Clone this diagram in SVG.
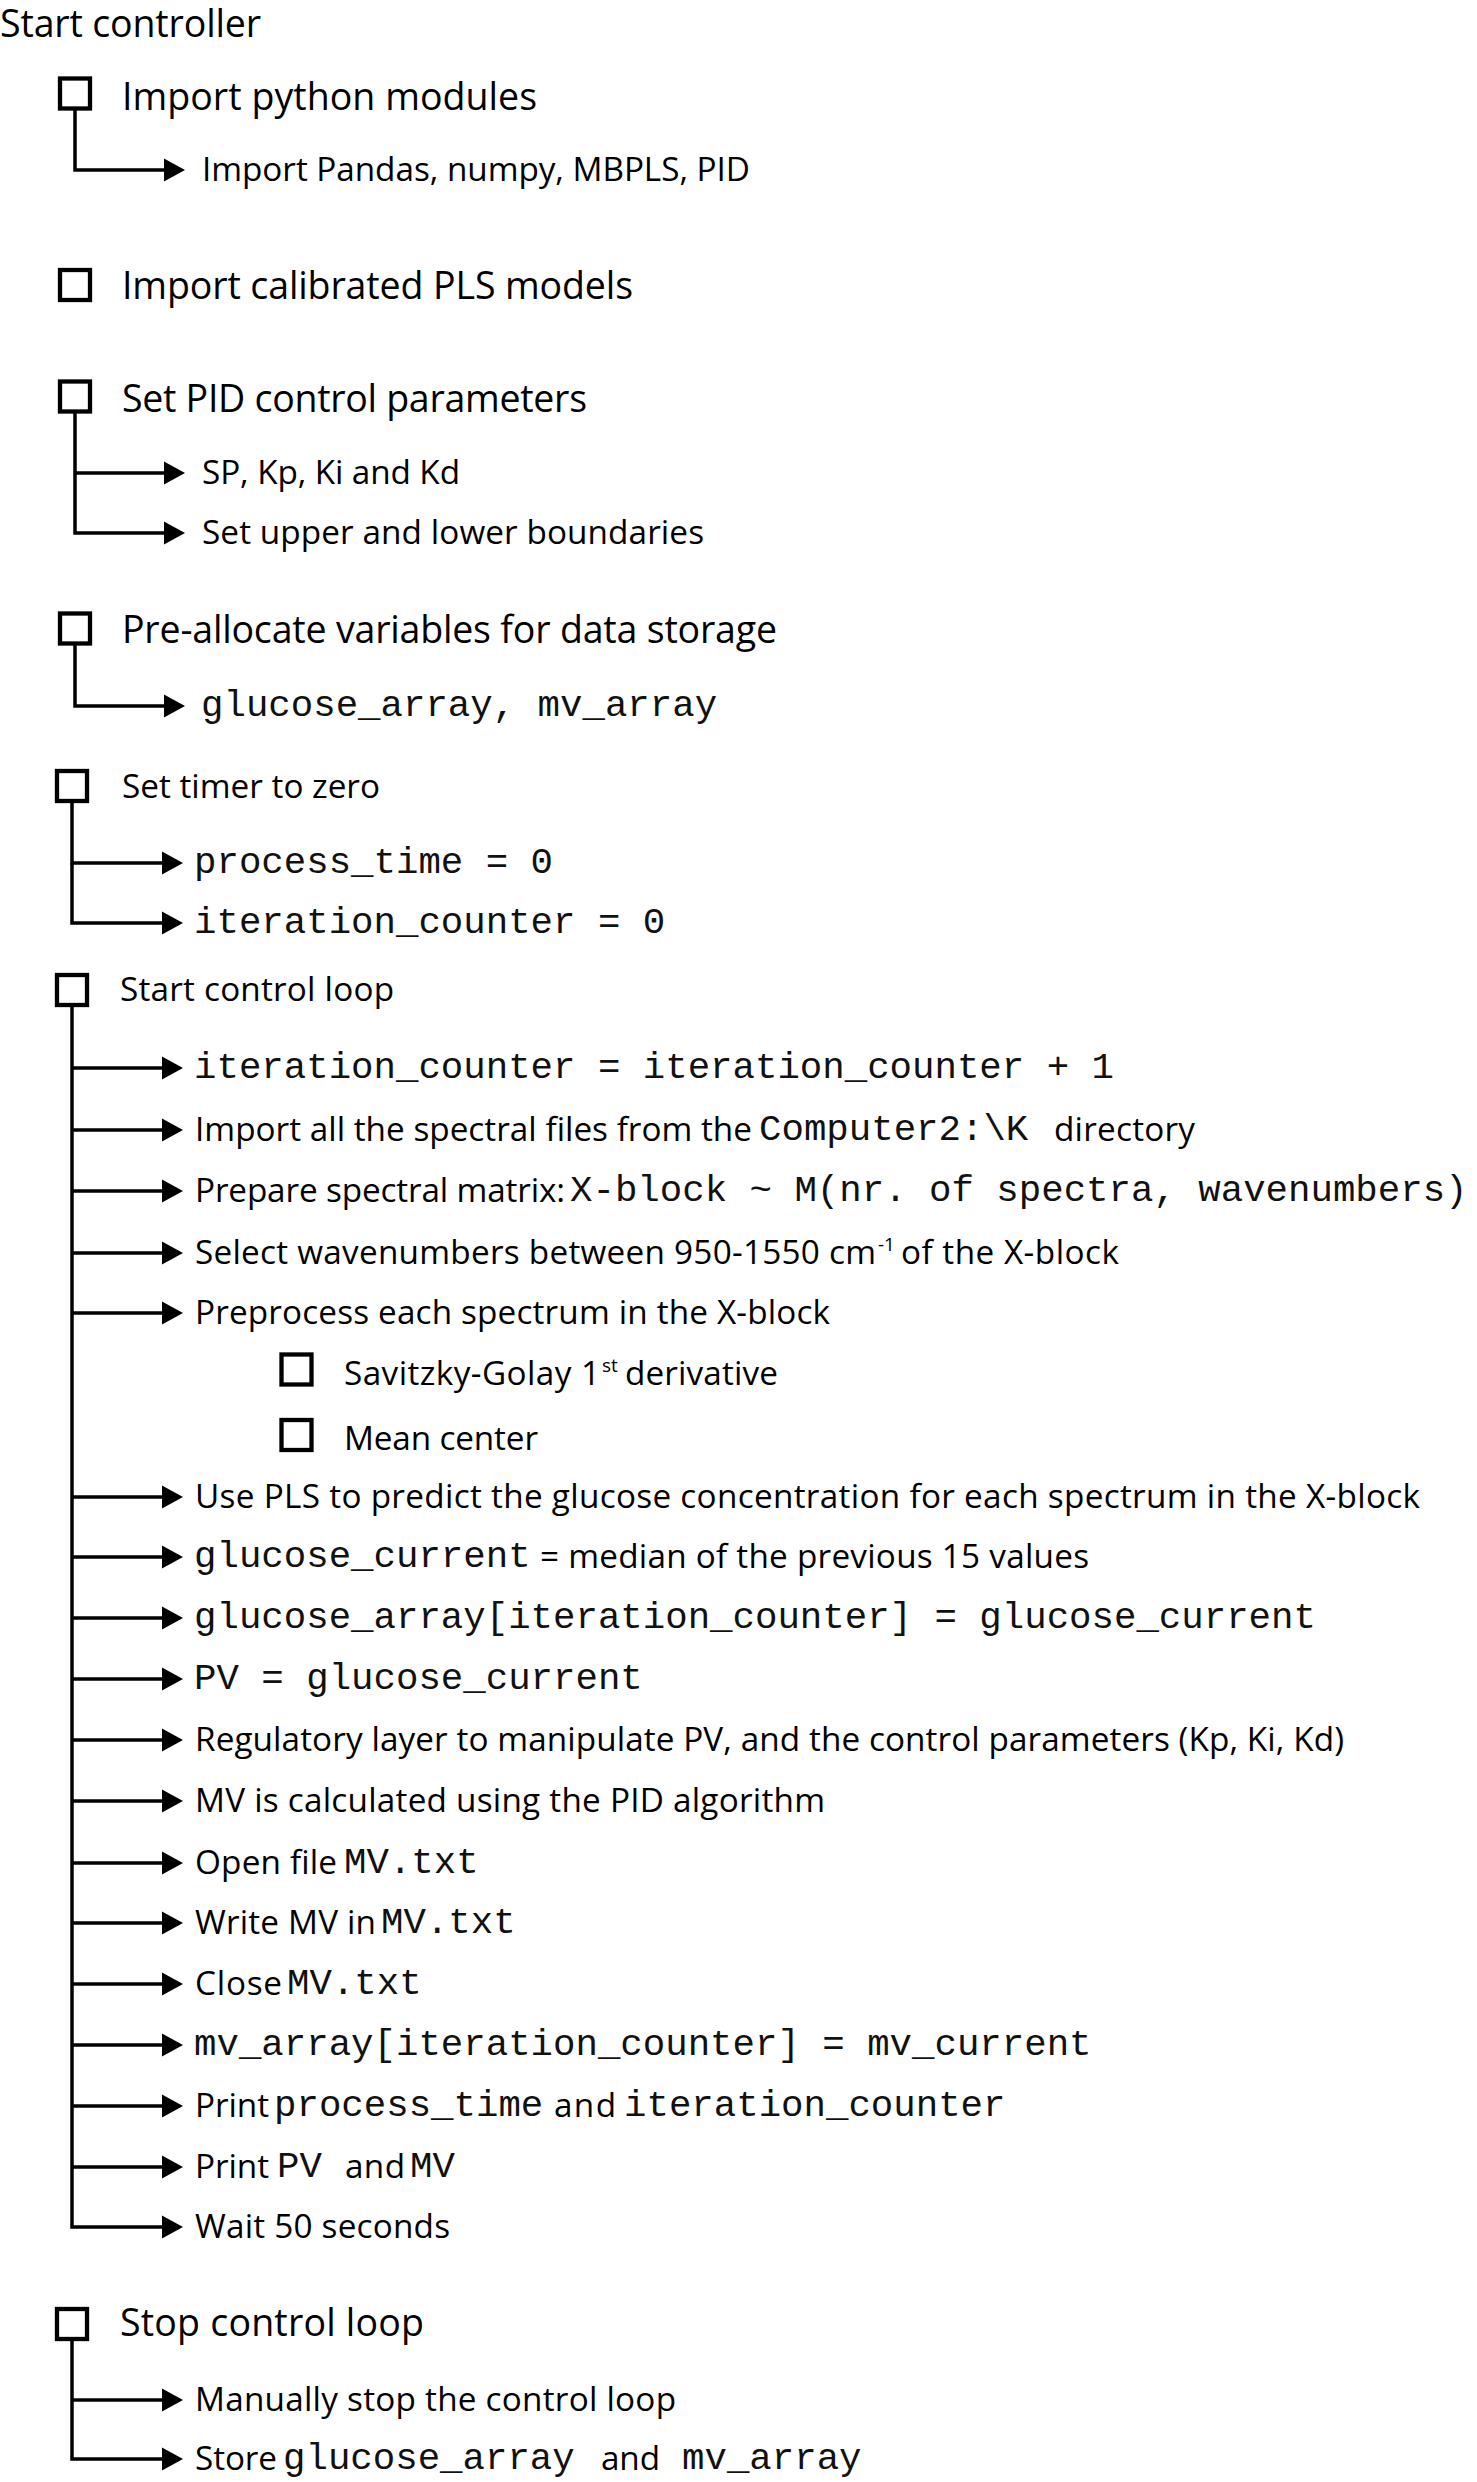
<svg xmlns="http://www.w3.org/2000/svg" width="1477" height="2482" viewBox="0 0 1477 2482" xml:space="preserve">
<style>
.h{font-family:"Open Sans","Noto Sans",sans-serif;font-size:37.5px;fill:#000}
.c{font-family:"Open Sans","Noto Sans",sans-serif;font-size:33.3px;fill:#000}
.sup{font-family:"Open Sans","Noto Sans",sans-serif;font-size:19px;fill:#000}
.m{font-family:"Liberation Mono","Courier New",monospace;font-size:37.4px;fill:#111}
.box{fill:#fff;stroke:#000;stroke-width:4.3}
.ln{fill:none;stroke:#000;stroke-width:3.5;stroke-linejoin:miter;marker-end:url(#ah)}
</style>
<defs>
<marker id="ah" markerUnits="userSpaceOnUse" markerWidth="21" markerHeight="23" refX="0" refY="11.5" orient="auto" overflow="visible"><path d="M0,0 L21,11.5 L0,23 z" fill="#000"/></marker>
</defs>
<rect width="1477" height="2482" fill="#fff"/>

<g id="connectors">
<path class="ln" d="M75,110 V170 H164"/>
<path class="ln" d="M75,473 H164"/>
<path class="ln" d="M75,413 V533 H164"/>
<path class="ln" d="M75,645 V706 H164"/>
<path class="ln" d="M72,803 V863 H162"/>
<path class="ln" d="M72,863 V923 H162"/>
<path class="ln" d="M72,1068 H162"/>
<path class="ln" d="M72,1130 H162"/>
<path class="ln" d="M72,1191 H162"/>
<path class="ln" d="M72,1253 H162"/>
<path class="ln" d="M72,1313 H162"/>
<path class="ln" d="M72,1497 H162"/>
<path class="ln" d="M72,1557 H162"/>
<path class="ln" d="M72,1618 H162"/>
<path class="ln" d="M72,1679 H162"/>
<path class="ln" d="M72,1740 H162"/>
<path class="ln" d="M72,1801 H162"/>
<path class="ln" d="M72,1863 H162"/>
<path class="ln" d="M72,1923 H162"/>
<path class="ln" d="M72,1984 H162"/>
<path class="ln" d="M72,2045 H162"/>
<path class="ln" d="M72,2106 H162"/>
<path class="ln" d="M72,2167 H162"/>
<path class="ln" d="M72,1007 V2227 H162"/>
<path class="ln" d="M72,2400 H162"/>
<path class="ln" d="M72,2340 V2459 H162"/>
</g>

<g id="start-controller"><text class="h" x="0" y="37" textLength="261">Start controller</text></g>

<g id="import-python-modules">
<rect class="box" x="60" y="78.5" width="30" height="30"/>
<text class="h" x="122" y="110" textLength="415">Import python modules</text>
</g>
<g id="import-libs"><text class="c" x="202" y="181" textLength="548">Import Pandas, numpy, MBPLS, PID</text></g>

<g id="import-pls-models">
<rect class="box" x="60" y="270" width="30" height="30"/>
<text class="h" x="122" y="299" textLength="511">Import calibrated PLS models</text>
</g>

<g id="set-pid-params">
<rect class="box" x="60" y="381.5" width="30" height="30"/>
<text class="h" x="122" y="412" textLength="465">Set PID control parameters</text>
</g>
<g id="sp-kp-ki-kd"><text class="c" x="202" y="484" textLength="258">SP, Kp, Ki and Kd</text></g>
<g id="boundaries"><text class="c" x="202" y="544" textLength="502">Set upper and lower boundaries</text></g>

<g id="pre-allocate">
<rect class="box" x="60" y="613.5" width="30" height="30"/>
<text class="h" x="122" y="643" textLength="655">Pre-allocate variables for data storage</text>
</g>
<g id="arrays"><text class="m" x="201" y="716">glucose_array, mv_array</text></g>

<g id="set-timer">
<rect class="box" x="57" y="771" width="30" height="30"/>
<text class="c" x="122" y="798" textLength="258">Set timer to zero</text>
</g>
<g id="process-time"><text class="m" x="194" y="873">process_time = 0</text></g>
<g id="iteration-zero"><text class="m" x="194" y="933">iteration_counter = 0</text></g>

<g id="start-loop">
<rect class="box" x="57" y="975" width="30" height="30"/>
<text class="c" x="120" y="1001" textLength="274">Start control loop</text>
</g>
<g id="step-increment"><text class="m" x="194" y="1078">iteration_counter = iteration_counter + 1</text></g>
<g id="step-import">
<text class="c" x="195" y="1141" textLength="557">Import all the spectral files from the</text>
<text class="m" x="759" y="1140">Computer2:\K</text>
<text class="c" x="1054" y="1141" textLength="141">directory</text>
</g>
<g id="step-prepare">
<text class="c" x="195" y="1202" textLength="370">Prepare spectral matrix:</text>
<text class="m" x="570" y="1201">X-block ~ M(nr. of spectra, wavenumbers)</text>
</g>
<g id="step-select">
<text class="c" x="195" y="1264" textLength="681">Select wavenumbers between 950-1550 cm</text>
<text class="sup" x="878" y="1251">-1</text>
<text class="c" x="901" y="1264" textLength="218">of the X-block</text>
</g>
<g id="step-preprocess"><text class="c" x="195" y="1324" textLength="635">Preprocess each spectrum in the X-block</text></g>
<g id="sub-savgol">
<rect class="box" x="281.5" y="1354.5" width="30" height="30"/>
<text class="c" x="344" y="1385" textLength="256">Savitzky-Golay 1</text>
<text class="sup" x="602" y="1372">st</text>
<text class="c" x="625" y="1385" textLength="153">derivative</text>
</g>
<g id="sub-mean">
<rect class="box" x="281.5" y="1420" width="30" height="30"/>
<text class="c" x="344" y="1450" textLength="194">Mean center</text>
</g>
<g id="step-predict"><text class="c" x="195" y="1508" textLength="1225">Use PLS  to predict the glucose concentration for each spectrum in the X-block</text></g>
<g id="step-median">
<text class="m" x="194" y="1567">glucose_current</text>
<text class="c" x="540" y="1568" textLength="549">= median of the previous 15 values</text>
</g>
<g id="step-store-glucose"><text class="m" x="194" y="1628">glucose_array[iteration_counter] = glucose_current</text></g>
<g id="step-pv"><text class="m" x="194" y="1689">PV = glucose_current</text></g>
<g id="step-regulatory"><text class="c" x="195" y="1751" textLength="1149">Regulatory layer to manipulate PV, and the control parameters (Kp, Ki, Kd)</text></g>
<g id="step-mv-calc"><text class="c" x="195" y="1812" textLength="630">MV is calculated using the PID algorithm</text></g>
<g id="step-open">
<text class="c" x="195" y="1874" textLength="142">Open file</text>
<text class="m" x="344" y="1873">MV.txt</text>
</g>
<g id="step-write">
<text class="c" x="195" y="1934" textLength="181">Write MV in</text>
<text class="m" x="381" y="1933">MV.txt</text>
</g>
<g id="step-close">
<text class="c" x="195" y="1995" textLength="87">Close</text>
<text class="m" x="287" y="1994">MV.txt</text>
</g>
<g id="step-store-mv"><text class="m" x="194" y="2055">mv_array[iteration_counter] = mv_current</text></g>
<g id="step-print-time">
<text class="c" x="195" y="2117" textLength="74">Print</text>
<text class="m" x="274" y="2116">process_time</text>
<text class="c" x="554" y="2117" textLength="62">and</text>
<text class="m" x="624" y="2116">iteration_counter</text>
</g>
<g id="step-print-pv">
<text class="c" x="195" y="2178" textLength="74">Print</text>
<text class="m" x="277" y="2177">PV</text>
<text class="c" x="345" y="2178" textLength="60">and</text>
<text class="m" x="410" y="2177">MV</text>
</g>
<g id="step-wait"><text class="c" x="195" y="2238" textLength="255">Wait 50 seconds</text></g>

<g id="stop-loop">
<rect class="box" x="57" y="2309" width="30" height="30"/>
<text class="h" x="120" y="2336" textLength="304">Stop control loop</text>
</g>
<g id="stop-manual"><text class="c" x="195" y="2411" textLength="481">Manually stop the control loop</text></g>
<g id="stop-store">
<text class="c" x="195" y="2470" textLength="82">Store</text>
<text class="m" x="283" y="2469">glucose_array</text>
<text class="c" x="601" y="2470" textLength="59">and</text>
<text class="m" x="682" y="2469">mv_array</text>
</g>
</svg>
